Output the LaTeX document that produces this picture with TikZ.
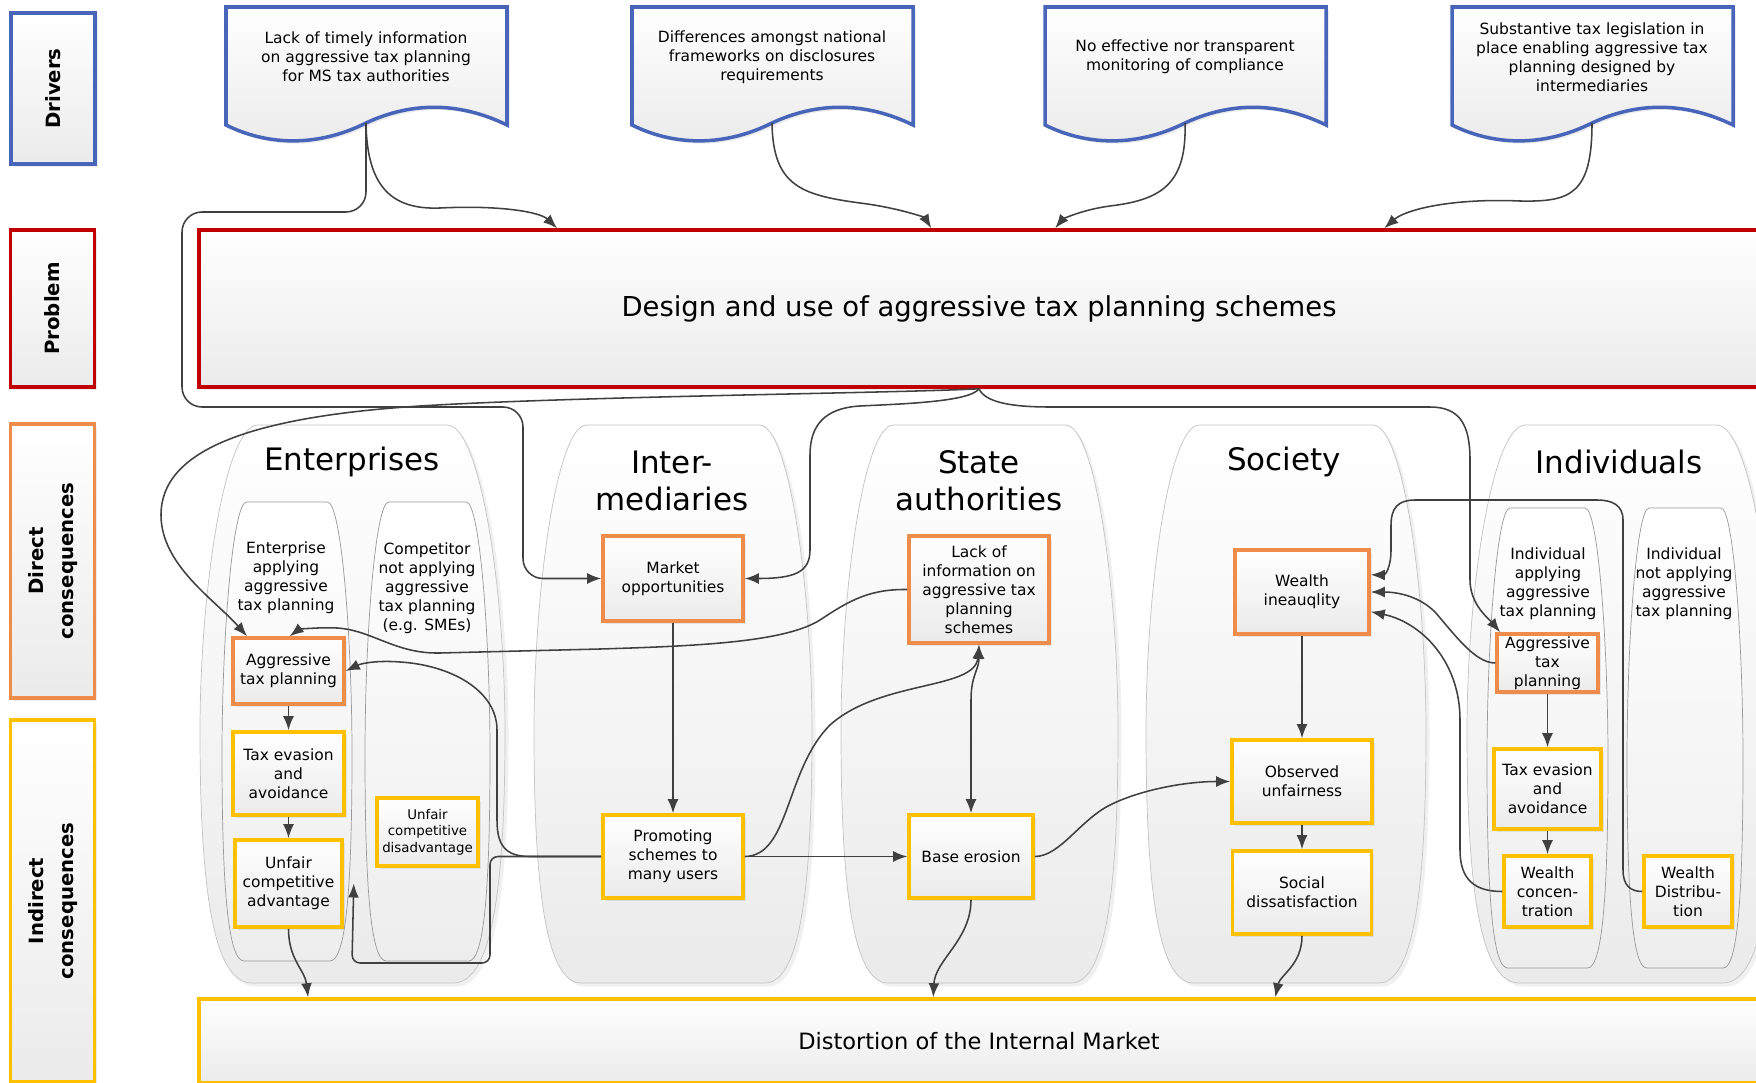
\documentclass[tikz,border=0pt]{standalone}
\usepackage{fontspec}
\setmainfont{DejaVu Sans}
\usepackage{graphicx}
\usetikzlibrary{arrows.meta,shadows}

\definecolor{drvblue}{RGB}{72,101,186}
\definecolor{probred}{RGB}{192,0,0}
\definecolor{dirorange}{RGB}{238,140,75}
\definecolor{indyellow}{RGB}{255,192,0}
\definecolor{conn}{RGB}{64,64,64}
\definecolor{lanegray}{RGB}{195,195,195}

% tall lane with arched top: style, left x, right x, top y, bottom y
\newcommand{\lane}[5]{%
  \pgfmathsetmacro{\lw}{#3-#2}%
  \pgfmathsetmacro{\lh}{#5-#4}%
  \draw[#1] (#2+0.19*\lw,#4) -- (#3-0.19*\lw,#4)
    .. controls (#3-0.08*\lw,#4) and (#3,#4+0.3*\lh) .. (#3,#4+0.55*\lh)
    .. controls (#3,#5-0.15*\lh) and (#3-0.05*\lw,#5) .. (#3-0.17*\lw,#5)
    -- (#2+0.17*\lw,#5)
    .. controls (#2+0.05*\lw,#5) and (#2,#5-0.15*\lh) .. (#2,#4+0.55*\lh)
    .. controls (#2,#4+0.3*\lh) and (#2+0.08*\lw,#4) .. (#2+0.19*\lw,#4) -- cycle;}

% driver document with wavy bottom: name, left x, text
\newcommand{\drvdoc}[3]{%
  \begin{scope}[shift={(#2,0)}]
    \draw[docshape] (0,7) -- (281,7) -- (281,125)
      .. controls (250,110) and (200,95) .. (140,123)
      .. controls (90,148) and (40,145) .. (0,125) -- cycle;
    \node[drvtext] (#1) at (140,57) {#3};
    \coordinate (#1-s) at (140,123);
  \end{scope}}

\begin{document}
\begin{tikzpicture}[
  x=0.025cm, y=-0.025cm,
  lane/.style={draw=lanegray, line width=0.5pt, top color=white, bottom color=black!8,
    drop shadow={opacity=0.12, shadow xshift=2.5pt, shadow yshift=-2.5pt}},
  sublane/.style={draw=black!40, line width=0.5pt, top color=white, bottom color=black!7},
  docshape/.style={draw=drvblue, line width=2.5pt, top color=white, bottom color=black!8,
    drop shadow={opacity=0.15, shadow xshift=2pt, shadow yshift=-2pt}},
  drvtext/.style={align=center, font=\fontsize{11}{13.5}\selectfont},
  lblbox/.style={draw=#1, line width=2.5pt, top color=white, bottom color=black!8,
    drop shadow={opacity=0.15, shadow xshift=2pt, shadow yshift=-2pt},
    minimum width=2.1cm, font=\fontsize{14}{21}\selectfont\bfseries},
  cbox/.style={draw=#1, line width=2.5pt, top color=white, bottom color=black!8,
    drop shadow={opacity=0.15, shadow xshift=2pt, shadow yshift=-2pt},
    align=center, inner sep=1pt, font=\fontsize{11}{13.5}\selectfont},
  direct/.style={cbox=dirorange},
  indirect/.style={cbox=indyellow},
  title/.style={align=center, font=\fontsize{22}{26}\selectfont},
  subtitle/.style={align=center, font=\fontsize{11}{13.5}\selectfont},
  arrow/.style={-{Latex[length=3.5mm,width=2.7mm]}, line width=1.1pt, draw=conn},
  dblarrow/.style={{Latex[length=3.5mm,width=2.7mm]}-{Latex[length=3.5mm,width=2.7mm]}, line width=1.1pt, draw=conn}
]
\useasboundingbox (0,0) rectangle (1756,1083);

% Lanes
\lane{lane}{200}{505}{425}{983}
\lane{sublane}{222}{352}{502}{961}
\lane{sublane}{365}{490}{502}{961}
\lane{lane}{534}{812}{425}{983}
\lane{lane}{841}{1118}{425}{983}
\lane{lane}{1146}{1426}{425}{983}
\lane{lane}{1467}{1775}{425}{983}
\lane{sublane}{1487}{1608}{508}{968}
\lane{sublane}{1627}{1743}{508}{968}

\node[title] (tEnt) at (352,462) {Enterprises};
\node[title] (tInt) at (672,481) {Inter-\\mediaries};
\node[title] (tSta) at (979,481) {State\\authorities};
\node[title] (tSoc) at (1284,462) {Society};
\node[title] (tInd) at (1619,462) {Individuals};

\node[subtitle] (sEntA) at (286,578) {Enterprise\\applying\\aggressive\\tax planning};
\node[subtitle] (sEntN) at (427,588) {Competitor\\not applying\\aggressive\\tax planning\\(e.g. SMEs)};
\node[subtitle] (sIndA) at (1548,584) {Individual\\applying\\aggressive\\tax planning};
\node[subtitle] (sIndN) at (1684,584) {Individual\\not applying\\aggressive\\tax planning};

% Row labels
\node[lblbox=drvblue, minimum height=3.775cm] (lDrv) at (53,88.5) {\rotatebox{90}{Drivers}};
\node[lblbox=probred, minimum height=3.925cm] (lProb) at (52.5,308.5) {\rotatebox{90}{Problem}};
\node[lblbox=dirorange, minimum height=6.85cm] (lDir) at (52.5,561) {\rotatebox{90}{\begin{tabular}{@{}c@{}}Direct\\consequences\end{tabular}}};
\node[lblbox=indyellow, minimum height=9.05cm] (lInd) at (52.5,901) {\rotatebox{90}{\begin{tabular}{@{}c@{}}Indirect\\consequences\end{tabular}}};

% Drivers
\drvdoc{d1}{226}{Lack of timely information\\on aggressive tax planning\\for MS tax authorities}
\drvdoc{d2}{632}{Differences amongst national\\frameworks on disclosures\\requirements}
\drvdoc{d3}{1045}{No effective nor transparent\\monitoring of compliance}
\drvdoc{d4}{1452}{Substantive tax legislation in\\place enabling aggressive tax\\planning designed by\\intermediaries}

% Problem and final effect
\node[cbox=probred, minimum width=39cm, minimum height=3.925cm, font=\fontsize{19.5}{23}\selectfont] (prob) at (979,308.5) {Design and use of aggressive tax planning schemes};
\node[cbox=indyellow, minimum width=39cm, minimum height=2.1cm, font=\fontsize{16}{19}\selectfont] (dist) at (979,1041) {Distortion of the Internal Market};

% Enterprises
\node[direct, minimum width=2.775cm, minimum height=1.65cm] (atpE) at (288.5,671) {Aggressive\\tax planning};
\node[indirect, minimum width=2.775cm, minimum height=2.075cm] (teaE) at (288.5,773.5) {Tax evasion\\and\\avoidance};
\node[indirect, minimum width=2.675cm, minimum height=2.175cm] (uca) at (288.5,883.5) {Unfair\\competitive\\advantage};
\node[indirect, minimum width=2.525cm, minimum height=1.7cm, font=\fontsize{9.5}{11.8}\selectfont] (ucd) at (427.5,832) {Unfair\\competitive\\disadvantage};

% Intermediaries
\node[direct, minimum width=3.5cm, minimum height=2.125cm] (mo) at (673,578.5) {Market\\opportunities};
\node[indirect, minimum width=3.5cm, minimum height=2.075cm] (ps) at (673,856.5) {Promoting\\schemes to\\many users};

% State authorities
\node[direct, minimum width=3.5cm, minimum height=2.675cm] (li) at (979,589.5) {Lack of\\information on\\aggressive tax\\planning\\schemes};
\node[indirect, minimum width=3.1cm, minimum height=2.075cm] (be) at (971,856.5) {Base erosion};

% Society
\node[direct, minimum width=3.35cm, minimum height=2.1cm] (wi) at (1302,592) {Wealth\\ineauqlity};
\node[indirect, minimum width=3.5cm, minimum height=2.075cm] (ou) at (1302,781.5) {Observed\\unfairness};
\node[indirect, minimum width=3.475cm, minimum height=2.075cm] (sd) at (1302,892.5) {Social\\dissatisfaction};

% Individuals
\node[direct, minimum width=2.525cm, minimum height=1.45cm] (atpI) at (1547.5,663) {Aggressive\\tax\\planning};
\node[indirect, minimum width=2.675cm, minimum height=2cm] (teaI) at (1547.5,789) {Tax evasion\\and\\avoidance};
\node[indirect, minimum width=2.175cm, minimum height=1.775cm] (wc) at (1547.5,891.5) {Wealth\\concen-\\tration};
\node[indirect, minimum width=2.2cm, minimum height=1.775cm] (wd) at (1688,891.5) {Wealth\\Distribu-\\tion};

% Drivers to problem
\draw[arrow] (d1-s) .. controls (367,185) and (390,210) .. (440,208) .. controls (500,205) and (540,212) .. ([xshift=9cm]prob.north west);
\draw[arrow] (d2-s) .. controls (773,185) and (800,195) .. (860,203) .. controls (900,208) and (925,218) .. ([xshift=18.35cm]prob.north west);
\draw[arrow] (d3-s) .. controls (1187,185) and (1160,200) .. (1110,206) .. controls (1080,210) and (1062,220) .. ([xshift=21.45cm]prob.north west);
\draw[arrow] (d4-s) .. controls (1592,195) and (1570,202) .. (1520,201) .. controls (1450,198) and (1405,210) .. ([xshift=29.675cm]prob.north west);
\draw[arrow, rounded corners=0.5cm] (d1-s) -- (366,212) -- (182,212) -- (182,407) -- (523,407) -- (523,578.5) -- (mo.west);

% Problem to direct consequences
\draw[arrow] (prob.south) .. controls (900,393) and (600,396) .. (437,405) .. controls (250,415) and (161,450) .. (161,515) .. controls (161,565) and (215,600) .. (atpE.140);
\draw[arrow] (prob.south) .. controls (970,402) and (900,404) .. (860,406) .. controls (825,408) and (810,425) .. (810,455) -- (810,550) .. controls (810,572) and (795,578.5) .. (mo.east);
\draw[arrow] (prob.south) .. controls (985,402) and (1010,407) .. (1050,407) -- (1430,407) .. controls (1460,407) and (1470,425) .. (1470,460) -- (1470,580) .. controls (1470,605) and (1490,620) .. (atpI.147);

% Enterprises
\draw[arrow] (li.west) .. controls (870,589) and (850,600) .. (820,620) .. controls (785,642) and (700,646) .. (600,649) -- (440,653) .. controls (395,654) and (372,630) .. (337,628) .. controls (315,627) and (298,630) .. (atpE.88);
\draw[arrow] (atpE) -- (teaE);
\draw[arrow] (teaE) -- (uca);
\draw[arrow] (uca.south) .. controls (288.5,960) and (305,970) .. ([xshift=2.775cm]dist.north west);
\draw[arrow] (ps.west) -- (530,856.5) .. controls (505,856.5) and (497,845) .. (497,820) -- (497,730) .. controls (497,690) and (450,665) .. (400,662) .. controls (375,660) and (360,664) .. (atpE.east);
\draw[arrow, rounded corners=0.2cm] (ps.west) -- (490,856.5) -- (490,963) -- (352,963) -- ([xshift=0.25cm]uca.east);

% Intermediaries and state authorities
\draw[arrow] (mo) -- (ps);
\draw[arrow] (ps) -- (be);
\draw[arrow] (ps.east) .. controls (790,856) and (785,770) .. (830,725) .. controls (880,680) and (975,690) .. (li.south);
\draw[dblarrow] (be.north) -- (971,700) .. controls (971,675) and (979,670) .. (li.south);
\draw[arrow] (be.east) .. controls (1060,856.5) and (1080,820) .. (1110,805) .. controls (1140,790) and (1185,781.5) .. (ou.west);
\draw[arrow] (be.south) .. controls (971,940) and (935,960) .. ([xshift=18.4cm]dist.north west);

% Society
\draw[arrow] (wi) -- (ou);
\draw[arrow] (ou) -- (sd);
\draw[arrow] (sd.south) .. controls (1302,965) and (1280,975) .. ([xshift=26.95cm]dist.north west);

% Individuals
\draw[arrow] (atpI) -- (teaI);
\draw[arrow] (teaI) -- (wc);
\draw[arrow] (atpI.west) .. controls (1475,663) and (1455,635) .. (1435,612) .. controls (1418,595) and (1395,592) .. (wi.east);
\draw[arrow] (wc.west) .. controls (1475,891.5) and (1460,880) .. (1460,850) -- (1460,720) .. controls (1460,660) and (1420,622) .. (wi.-16);
\draw[arrow] (wd.west) .. controls (1630,891.5) and (1623,885) .. (1623,870) -- (1623,520) .. controls (1623,505) and (1612,500) .. (1597,500) -- (1415,500) .. controls (1398,500) and (1391,508) .. (1391,525) -- (1391,550) .. controls (1391,568) and (1385,575) .. (wi.14);

\end{tikzpicture}
\end{document}
